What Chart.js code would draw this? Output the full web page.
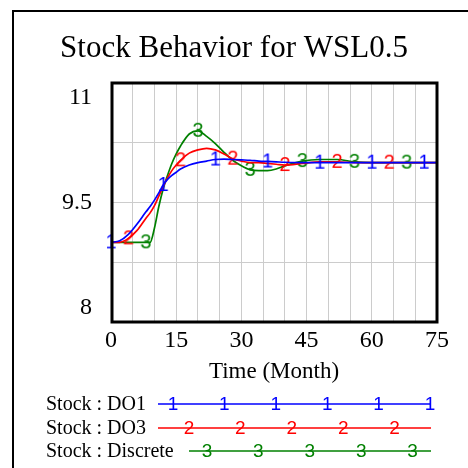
<!DOCTYPE html>
<html>
<head>
<meta charset="utf-8">
<title>Stock Behavior for WSL0.5</title>
<script src="https://cdn.jsdelivr.net/npm/chart.js@4.4.1/dist/chart.umd.min.js"></script>
<style>
    html, body { margin: 0; padding: 0; background: #ffffff; overflow: hidden; width: 468px; height: 468px; }
    #grafico { display: block; position: absolute; left: 0; top: 0; }
</style>
</head>
<body>
<canvas id="grafico" width="468" height="468"></canvas>
<script>
/* ============================================================
   DATOS
============================================================ */
const months = [0, 2, 4, 6, 8, 9, 10, 11, 12, 13, 14, 15, 16, 18, 20, 22, 24, 26, 28, 30,
                32, 34, 36, 38, 40, 44, 48, 52, 56, 60, 64, 68, 72, 75];

const stockDO1 = [9.00, 9.02, 9.10, 9.23, 9.38, 9.45, 9.53, 9.62, 9.72, 9.79, 9.84, 9.88, 9.92, 9.97, 10.00, 10.02, 10.04, 10.045, 10.04, 10.035,
                  10.03, 10.02, 10.015, 10.01, 10.005, 10.0, 10.0, 10.0, 10.0, 10.0, 10.0, 10.0, 10.0, 10.0];

const stockDO3 = [9.00, 9.00, 9.05, 9.15, 9.30, 9.37, 9.46, 9.58, 9.70, 9.81, 9.90, 9.97, 10.03, 10.12, 10.16, 10.18, 10.16, 10.11, 10.05, 10.02,
                  10.00, 10.00, 9.99, 9.98, 9.97, 9.99, 10.01, 10.01, 10.0, 10.0, 10.0, 10.0, 10.0, 10.0];

const stockDiscrete = [9.00, 9.00, 9.00, 9.00, 9.00, 9.00, 9.18, 9.45, 9.67, 9.84, 9.99, 10.11, 10.21, 10.36, 10.40, 10.33, 10.24, 10.13, 10.03, 9.96,
                       9.91, 9.90, 9.90, 9.92, 9.96, 10.02, 10.04, 10.04, 10.01, 10.0, 10.0, 10.0, 10.0, 10.0];

const seriesLabels = ["Stock : DO1", "Stock : DO3", "Stock : Discrete"];
const seriesMarks = ["1", "2", "3"];
const marksDO1 = [0, 12, 24, 36, 48, 60, 72];
const marksDO3 = [4, 16, 28, 40, 52, 64];
const marksDiscrete = [8, 20, 32, 44, 56, 68];

const xTickLabels = [0, 15, 30, 45, 60, 75];
const yTickLabels = [8, 9.5, 11];

/* ============================================================
   ESTILO
============================================================ */
const SERIF = '"Liberation Serif", "Times New Roman", serif';
const SANS = '"Liberation Sans", Arial, sans-serif';
const colores = ["#0000ff", "#ff0000", "#008000"];

// marcador numérico tipo Vensim (1, 2, 3) dibujado en un canvas pequeño
function crearMarcador(ch, color) {
    const c = document.createElement("canvas");
    c.width = 16;
    c.height = 22;
    const g = c.getContext("2d");
    g.font = "20px " + SANS;
    g.fillStyle = color;
    g.textAlign = "center";
    g.textBaseline = "middle";
    g.fillText(ch, 8, 11);
    return c;
}

function crearSerie(i, valores, marcas) {
    const img = crearMarcador(seriesMarks[i], colores[i]);
    return {
        label: seriesLabels[i],
        data: months.map((m, k) => ({ x: m, y: valores[k] })),
        borderColor: colores[i],
        backgroundColor: colores[i],
        borderWidth: 1.7,
        cubicInterpolationMode: "monotone",
        clip: false,
        pointStyle: (ctx) => marcas.includes(months[ctx.dataIndex]) ? img : "circle",
        pointRadius: (ctx) => marcas.includes(months[ctx.dataIndex]) ? 4 : 0,
        pointHoverRadius: 0
    };
}

/* ============================================================
   PLUGIN: fondo, marco, recuadro del área y leyenda inferior
============================================================ */
const leyendaFilas = [
    { y: 404, desde: 158, primera: 173, n: 6 },
    { y: 428, desde: 158, primera: 189, n: 5 },
    { y: 451, desde: 189, primera: 207, n: 5 }
];

const pluginMarco = {
    id: "marcoVensim",
    beforeDraw(chart) {
        const ctx = chart.ctx;
        ctx.save();
        ctx.fillStyle = "#fff";
        ctx.fillRect(0, 0, chart.width, chart.height);
        ctx.restore();
    },
    afterDraw(chart) {
        const ctx = chart.ctx;
        const a = chart.chartArea;
        ctx.save();

        // marco exterior (solo lados izquierdo y superior visibles)
        ctx.strokeStyle = "#000";
        ctx.lineWidth = 2;
        ctx.beginPath();
        ctx.moveTo(13, 468);
        ctx.lineTo(13, 11);
        ctx.lineTo(468, 11);
        ctx.stroke();

        // recuadro del gráfico
        ctx.lineWidth = 3;
        ctx.strokeRect(a.left + 1, a.top, a.right - a.left - 1, a.bottom - a.top);

        // leyenda
        chart.data.datasets.forEach((ds, i) => {
            const f = leyendaFilas[i];
            ctx.fillStyle = "#000";
            ctx.font = "20px " + SERIF;
            ctx.textAlign = "left";
            ctx.textBaseline = "middle";
            ctx.fillText(ds.label, 46, f.y + 1);

            ctx.strokeStyle = ds.borderColor;
            ctx.lineWidth = 1.7;
            ctx.beginPath();
            ctx.moveTo(f.desde, f.y);
            ctx.lineTo(431, f.y);
            ctx.stroke();

            ctx.fillStyle = ds.borderColor;
            ctx.font = "19px " + SANS;
            ctx.textAlign = "center";
            for (let k = 0; k < f.n; k++) {
                ctx.fillText(seriesMarks[i], f.primera + k * 51.4, f.y + 1);
            }
        });
        ctx.restore();
    }
};

/* ============================================================
   GRÁFICO
============================================================ */
new Chart(document.getElementById("grafico"), {
    type: "line",
    data: {
        datasets: [
            crearSerie(0, stockDO1, marksDO1),
            crearSerie(1, stockDO3, marksDO3),
            crearSerie(2, stockDiscrete, marksDiscrete)
        ]
    },
    options: {
        responsive: false,
        animation: false,
        devicePixelRatio: 1,
        layout: { padding: 0 },
        plugins: {
            legend: { display: false },
            tooltip: { enabled: false },
            title: {
                display: true,
                text: "Stock Behavior for WSL0.5",
                color: "#000",
                font: { family: SERIF, size: 31, weight: "normal" },
                padding: { top: 30, bottom: 15.8 }
            }
        },
        scales: {
            x: {
                type: "linear",
                min: 0,
                max: 75,
                grid: { color: "#cccccc", lineWidth: 1, drawTicks: false },
                border: { display: false },
                ticks: {
                    stepSize: 5,
                    autoSkip: false,
                    maxRotation: 0,
                    padding: 4,
                    color: "#000",
                    font: { family: SERIF, size: 24 },
                    callback: (v) => xTickLabels.includes(v) ? String(v) : ""
                },
                title: {
                    display: true,
                    text: "Time (Month)",
                    color: "#000",
                    font: { family: SERIF, size: 23 },
                    padding: { top: 0, bottom: 82 }
                },
                afterFit: (s) => {
                    s.height = 146;
                    s.paddingLeft = 0;
                    s.paddingRight = 31;
                }
            },
            y: {
                min: 8,
                max: 11,
                grid: { color: "#cccccc", lineWidth: 1, drawTicks: false },
                border: { display: false },
                ticks: {
                    stepSize: 0.75,
                    autoSkip: false,
                    padding: 19,
                    color: "#000",
                    font: { family: SERIF, size: 24 },
                    callback: (v) => {
                        if (!yTickLabels.includes(v)) return "";
                        if (v === 11) return ["", "11"];
                        if (v === 8) return ["8", ""];
                        return String(v);
                    }
                },
                afterFit: (s) => {
                    s.width = 111;
                    s.paddingTop = 0;
                    s.paddingBottom = 0;
                }
            }
        }
    },
    plugins: [pluginMarco]
});
</script>
</body>
</html>
